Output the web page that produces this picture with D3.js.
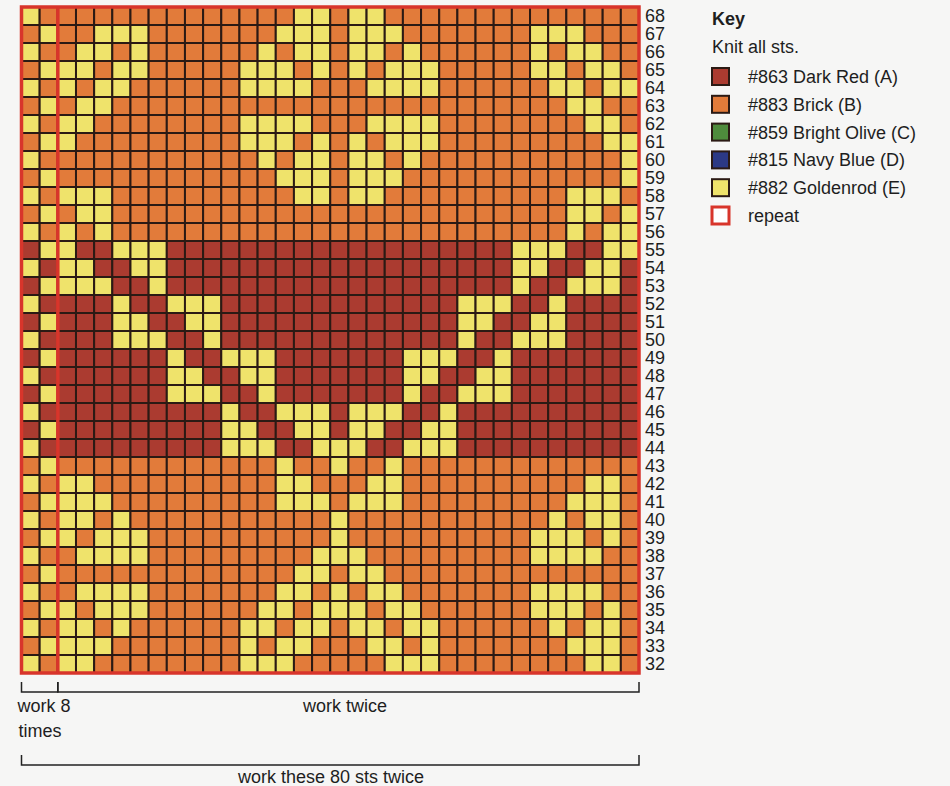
<!DOCTYPE html>
<html>
<head>
<meta charset="utf-8">
<script src="https://cdn.jsdelivr.net/npm/d3@7"></script>
<style>
  body { margin: 0; background: #f6f6f5; }
  svg { display: block; font-family: "Liberation Sans", Arial, sans-serif; }
</style>
</head>
<body>
<div id="chart"></div>
<script>
// chart rows, top to bottom (also the tick labels on the right)
var rowNumbers = [68, 67, 66, 65, 64, 63, 62, 61, 60, 59, 58, 57, 56,
    55, 54, 53, 52, 51, 50, 49, 48, 47, 46, 45, 44,
    43, 42, 41, 40, 39, 38, 37, 36, 35, 34, 33, 32];

// stitch columns 0..33 (0-1 = "work 8 times", 2-33 = "work twice")
var stitchCount = 34;

// rows worked with Dark Red (A) as background, others with Brick (B)
var darkRows = [55, 54, 53, 52, 51, 50, 49, 48, 47, 46, 45, 44];

// Goldenrod (E) stitches for each row, same order as rowNumbers
var goldCols = [
    [0, 15, 16, 18, 19],
    [1, 4, 5, 6, 14, 15, 16, 18, 19, 20, 28, 29, 30],
    [0, 3, 4, 6, 13, 15, 16, 18, 19, 21, 28, 30, 31],
    [1, 2, 3, 5, 6, 12, 13, 14, 16, 18, 20, 21, 22, 28, 29, 31, 32],
    [0, 2, 4, 5, 12, 13, 14, 15, 19, 20, 21, 22, 29, 30, 32, 33],
    [1, 3, 4, 30, 31],
    [0, 2, 3, 12, 13, 14, 15, 19, 20, 21, 22, 31, 32],
    [1, 2, 12, 13, 14, 16, 18, 20, 21, 22, 32, 33],
    [0, 13, 15, 16, 18, 19, 21, 33],
    [1, 14, 15, 16, 18, 19, 20, 33],
    [0, 2, 3, 4, 15, 16, 18, 19, 30, 31, 32],
    [1, 3, 4, 30, 31, 33],
    [0, 2, 4, 30, 32, 33],
    [1, 2, 5, 6, 7, 27, 28, 29, 32, 33],
    [0, 2, 3, 6, 7, 27, 28, 31, 32],
    [1, 2, 3, 4, 7, 27, 30, 31, 32],
    [0, 5, 8, 9, 10, 24, 25, 26, 29],
    [1, 5, 6, 9, 10, 24, 25, 28, 29],
    [0, 5, 6, 7, 10, 24, 27, 28, 29],
    [1, 8, 11, 12, 13, 21, 22, 23, 26],
    [0, 8, 9, 12, 13, 21, 22, 25, 26],
    [1, 8, 9, 10, 13, 21, 24, 25, 26],
    [0, 11, 14, 15, 16, 18, 19, 20, 23],
    [1, 11, 12, 15, 16, 18, 19, 22, 23],
    [0, 11, 12, 13, 16, 17, 18, 21, 22, 23],
    [1, 14, 17, 20],
    [0, 2, 3, 14, 15, 19, 20, 31, 32],
    [1, 2, 3, 4, 14, 15, 16, 18, 19, 20, 30, 31, 32],
    [0, 2, 3, 5, 17, 29, 31, 32],
    [1, 2, 4, 5, 6, 17, 28, 29, 30, 32],
    [0, 3, 4, 5, 6, 16, 17, 18, 28, 29, 30, 31],
    [1, 15, 16, 18, 19],
    [0, 3, 4, 5, 6, 14, 15, 17, 19, 20, 28, 29, 30, 31],
    [1, 2, 4, 5, 6, 13, 14, 16, 17, 18, 20, 21, 28, 29, 30, 32],
    [0, 2, 3, 5, 12, 13, 15, 16, 18, 19, 21, 22, 29, 31, 32],
    [1, 2, 3, 4, 12, 14, 15, 19, 20, 22, 30, 31, 32],
    [0, 2, 3, 12, 13, 14, 20, 21, 22, 31, 32]
];

// key
var keyCodes = ["A", "B", "C", "D", "E", "repeat"];
var keyLabels = ["#863 Dark Red (A)", "#883 Brick (B)", "#859 Bright Olive (C)",
    "#815 Navy Blue (D)", "#882 Goldenrod (E)", "repeat"];

// bracket notes under the chart: [first stitch, last stitch, label lines]
var repeatNotes = [
    { from: 0, to: 1, label: ["work 8", "times"] },
    { from: 2, to: 33, label: ["work twice"] }
];
var totalNote = "work these 80 sts twice";

var yarnColor = { A: "#ab3b30", B: "#e27b3a", C: "#4e8b3c", D: "#2c3985", E: "#efe36b" };
var gridColor = "#2b1a14";
var repeatRed = "#d8352b";

var width = 950, height = 786;
var gLeft = 21.5, gRight = 639, gTop = 7, gBottom = 673;

var svg = d3.select("#chart")
    .append("svg")
    .attr("width", width)
    .attr("height", height);

var x = d3.scaleBand()
    .domain(d3.range(stitchCount))
    .range([gLeft, gRight]);

var y = d3.scaleBand()
    .domain(rowNumbers)
    .range([gTop, gBottom]);

// flatten the rows into cells
var cells = [];
rowNumbers.forEach(function (aRow, aIdx) {
    d3.range(stitchCount).forEach(function (aCol) {
        var vYarn = goldCols[aIdx].indexOf(aCol) >= 0 ? "E"
            : (darkRows.indexOf(aRow) >= 0 ? "A" : "B");
        cells.push({ row: aRow, col: aCol, yarn: vYarn });
    });
});

svg.append("g")
    .selectAll("rect")
    .data(cells)
    .enter()
    .append("rect")
    .attr("x", function (d) { return x(d.col); })
    .attr("y", function (d) { return y(d.row); })
    .attr("width", x.bandwidth())
    .attr("height", y.bandwidth())
    .attr("fill", function (d) { return yarnColor[d.yarn]; })
    .attr("stroke", gridColor)
    .attr("stroke-width", 2);

// red repeat outlines
svg.append("rect")
    .attr("x", gLeft).attr("y", gTop)
    .attr("width", gRight - gLeft).attr("height", gBottom - gTop)
    .attr("fill", "none")
    .attr("stroke", repeatRed)
    .attr("stroke-width", 3.5);
svg.append("line")
    .attr("x1", x(2)).attr("x2", x(2))
    .attr("y1", gTop).attr("y2", gBottom)
    .attr("stroke", repeatRed)
    .attr("stroke-width", 3.5);

// row numbers
var rowAxis = svg.append("g")
    .attr("transform", "translate(" + gRight + ",0)")
    .call(d3.axisRight(y).tickSize(0).tickPadding(6));
rowAxis.select(".domain").remove();
rowAxis.selectAll("text")
    .attr("font-family", "'Liberation Sans', Arial, sans-serif")
    .attr("font-size", 18)
    .attr("fill", "#1e1e1e");

// brackets under the chart
var bracket = svg.append("g")
    .attr("stroke", "#222")
    .attr("stroke-width", 1.5)
    .attr("fill", "none");

function drawBracket(aX1, aX2, aY) {
    bracket.append("path")
        .attr("d", "M" + aX1 + "," + (aY - 10) + "V" + aY + "H" + aX2 + "V" + (aY - 10));
}

repeatNotes.forEach(function (aNote) {
    drawBracket(x(aNote.from), x(aNote.to) + x.bandwidth(), 692);
});
drawBracket(gLeft, gRight, 765);

var notes = svg.append("g")
    .attr("font-size", 18)
    .attr("fill", "#1e1e1e")
    .attr("text-anchor", "middle");

notes.append("text")
    .attr("x", 44).attr("y", 712)
    .text(repeatNotes[0].label[0]);
notes.append("text")
    .attr("x", 40).attr("y", 737)
    .text(repeatNotes[0].label[1]);
notes.append("text")
    .attr("x", 345).attr("y", 712)
    .text(repeatNotes[1].label[0]);
notes.append("text")
    .attr("x", 331).attr("y", 783)
    .text(totalNote);

// key
var key = svg.append("g")
    .attr("transform", "translate(711,0)")
    .attr("fill", "#1e1e1e")
    .attr("font-size", 18);

key.append("text")
    .attr("x", 1).attr("y", 25)
    .attr("font-weight", "bold")
    .text("Key");
key.append("text")
    .attr("x", 1).attr("y", 53)
    .text("Knit all sts.");

var keyY = d3.scalePoint()
    .domain(keyCodes)
    .range([83, 222]);

var keyItem = key.selectAll("g.item")
    .data(keyCodes)
    .enter()
    .append("g")
    .attr("class", "item")
    .attr("transform", function (d) { return "translate(0," + keyY(d) + ")"; });

keyItem.append("rect")
    .attr("x", 1).attr("y", -15)
    .attr("width", 17).attr("height", 17)
    .attr("fill", function (d) { return d === "repeat" ? "#ffffff" : yarnColor[d]; })
    .attr("stroke", function (d) { return d === "repeat" ? repeatRed : gridColor; })
    .attr("stroke-width", function (d) { return d === "repeat" ? 3 : 2; });

keyItem.append("text")
    .attr("x", 37).attr("y", 0)
    .text(function (d, i) { return keyLabels[i]; });
</script>
</body>
</html>
